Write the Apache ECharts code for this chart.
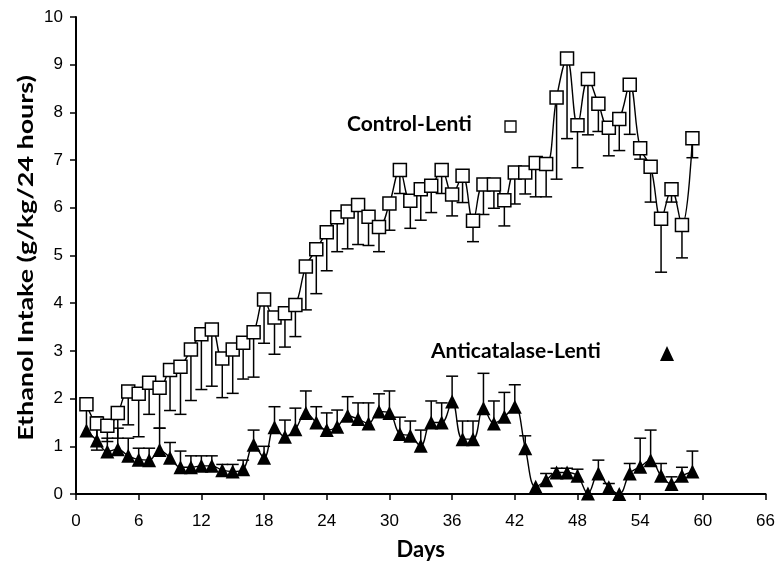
<!DOCTYPE html>
<html><head><meta charset="utf-8">
<script src="https://cdn.jsdelivr.net/npm/echarts@6/dist/echarts.min.js"></script>
<style>html,body{margin:0;padding:0;background:#fff}#c{width:778px;height:572px}</style>
</head><body><div id="c"></div>
<script>
var days = [1,2,3,4,5,6,7,8,9,10,11,12,13,14,15,16,17,18,19,20,21,22,23,24,25,26,27,28,29,30,31,32,33,34,35,36,37,38,39,40,41,42,43,44,45,46,47,48,49,50,51,52,53,54,55,56,57,58,59];
var controlLenti = [1.88,1.48,1.43,1.70,2.15,2.10,2.33,2.23,2.60,2.67,3.03,3.35,3.45,2.84,3.03,3.17,3.39,4.08,3.70,3.79,3.96,4.77,5.13,5.49,5.80,5.92,6.06,5.81,5.60,6.09,6.79,6.15,6.39,6.46,6.79,6.28,6.67,5.73,6.49,6.49,6.16,6.74,6.74,6.94,6.92,8.31,9.13,7.73,8.70,8.18,7.68,7.86,8.58,7.25,6.86,5.77,6.39,5.64,7.46];
var controlLow = [1.76,0.92,1.10,1.17,1.45,1.20,1.67,1.38,1.75,1.67,1.96,2.19,2.26,2.02,2.11,2.41,2.45,3.16,2.93,3.08,3.30,3.86,4.20,4.68,5.08,5.14,5.23,5.21,5.08,5.53,6.30,5.57,5.74,5.90,6.30,5.83,6.11,5.29,5.86,5.99,5.62,6.08,6.29,6.23,6.23,6.60,7.45,6.84,7.53,7.60,7.09,7.20,7.54,7.02,6.12,4.65,6.12,4.95,7.05];
var antiLenti = [1.33,1.12,0.89,0.94,0.80,0.72,0.71,0.92,0.76,0.56,0.56,0.59,0.59,0.50,0.47,0.52,1.03,0.76,1.40,1.20,1.36,1.70,1.50,1.34,1.41,1.64,1.57,1.48,1.73,1.70,1.26,1.22,1.01,1.50,1.50,1.94,1.15,1.15,1.80,1.48,1.62,1.83,0.96,0.15,0.29,0.45,0.45,0.38,0.01,0.43,0.14,0.00,0.43,0.57,0.71,0.38,0.21,0.38,0.47];
var antiHigh = [1.76,1.62,1.17,1.38,1.17,0.96,0.96,1.38,1.08,0.90,0.80,0.80,0.80,0.62,0.62,0.71,1.34,1.00,1.83,1.55,1.80,2.16,1.83,1.70,1.76,2.04,1.91,1.91,2.10,2.16,1.61,1.53,1.34,1.95,1.91,2.47,1.53,1.53,2.53,1.95,2.13,2.29,1.22,0.15,0.43,0.54,0.54,0.52,0.01,0.71,0.22,0.00,0.64,1.17,1.34,0.64,0.36,0.56,0.90];
var xTicks = {min:0, max:66, interval:6};
var yTicks = {min:0, max:10, interval:1};
var yTitle = 'Ethanol Intake (g/kg/24 hours)';
var xTitle = 'Days';

var chart = echarts.init(document.getElementById('c'));
function pairs(vals){ return days.map(function(d,i){ return [d, vals[i]]; }); }
function errData(vals, ends){ return days.map(function(d,i){ return [d, vals[i], ends[i]]; }); }
function errRender(params, api){
  var x = api.value(0), y = api.value(1), e = api.value(2);
  if (Math.abs(e - y) < 1e-6) return null;
  var p0 = api.coord([x, y]), p1 = api.coord([x, e]);
  var hw = 6;
  return {type:'group', children:[
    {type:'line', shape:{x1:p0[0], y1:p0[1], x2:p1[0], y2:p1[1]}, style:{stroke:'#000', lineWidth:1.5}},
    {type:'line', shape:{x1:p1[0]-hw, y1:p1[1], x2:p1[0]+hw, y2:p1[1]}, style:{stroke:'#000', lineWidth:1.5}}
  ]};
}
var tickFont = {fontFamily:'Liberation Sans, Arial, sans-serif', fontSize:17, color:'#000'};
var titleFont = 'Lato, "Open Sans", sans-serif';
chart.setOption({
  animation:false,
  backgroundColor:'#fff',
  grid:{left:76, right:12, top:17, bottom:78, containLabel:false},
  xAxis:{
    type:'value', min:xTicks.min, max:xTicks.max, interval:xTicks.interval,
    name:xTitle, nameLocation:'middle', nameGap:45,
    nameTextStyle:{fontFamily:titleFont, fontWeight:'bold', fontSize:22, color:'#000'},
    axisLine:{lineStyle:{color:'#000', width:2}},
    axisTick:{length:6, lineStyle:{color:'#000', width:1.5}},
    axisLabel:Object.assign({margin:19}, tickFont),
    splitLine:{show:false}
  },
  yAxis:{
    type:'value', min:yTicks.min, max:yTicks.max, interval:yTicks.interval,
    axisLine:{show:true, lineStyle:{color:'#000', width:2}},
    axisTick:{show:true, length:6, lineStyle:{color:'#000', width:1.5}},
    axisLabel:Object.assign({margin:13}, tickFont),
    splitLine:{show:false}
  },
  series:[
    {type:'custom', name:'ctrlErr', renderItem:errRender, data:errData(controlLenti, controlLow), z:1, encode:{x:0,y:1}},
    {type:'custom', name:'antiErr', renderItem:errRender, data:errData(antiLenti, antiHigh), z:1, encode:{x:0,y:1}},
    {type:'line', name:'Control-Lenti', data:pairs(controlLenti), smooth:0.4, symbol:'rect', symbolSize:13,
     lineStyle:{color:'#000', width:1.4}, itemStyle:{color:'#fff', borderColor:'#000', borderWidth:1.5}, z:3},
    {type:'line', name:'Anticatalase-Lenti', data:pairs(antiLenti), smooth:0.4, symbol:'triangle', symbolSize:14,
     lineStyle:{color:'#000', width:1.4}, itemStyle:{color:'#000'}, z:3}
  ],
  graphic:[
    {type:'text', x:26, y:258, rotation:Math.PI/2, scaleX:1.28, scaleY:1,
     style:{text:yTitle, font:'bold 21px Lato, sans-serif', fill:'#000', align:'center', verticalAlign:'middle'}},
    {type:'text', left:347, top:114, style:{text:'Control-Lenti', font:'bold 21px Lato, sans-serif', fill:'#000'}},
    {type:'rect', shape:{x:505, y:121, width:11, height:11}, style:{fill:'#fff', stroke:'#000', lineWidth:1.3}},
    {type:'text', left:431, top:341, style:{text:'Anticatalase-Lenti', font:'bold 21px Lato, sans-serif', fill:'#000'}},
    {type:'polygon', shape:{points:[[667,346],[674,361],[660,361]]}, style:{fill:'#000'}}
  ]
});
</script></body></html>
